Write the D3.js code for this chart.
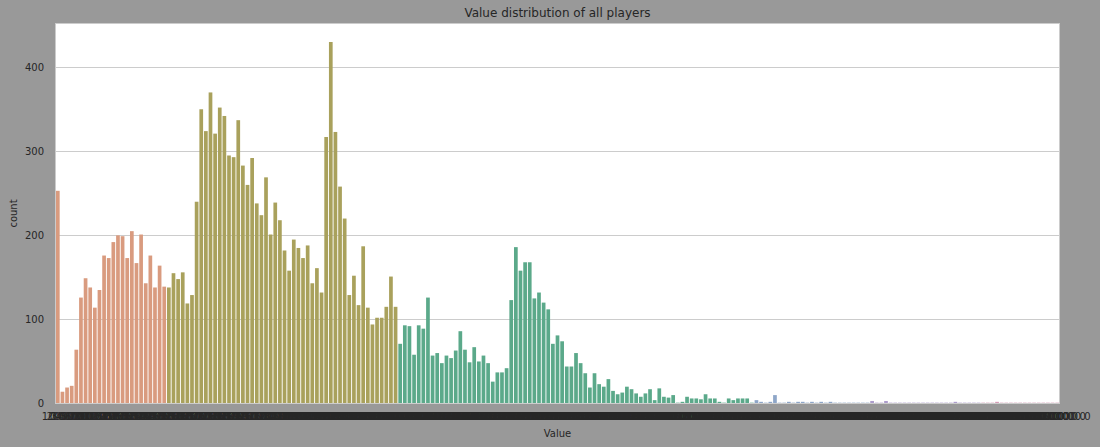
<!DOCTYPE html>
<html>
<head>
<meta charset="utf-8">
<script src="https://cdnjs.cloudflare.com/ajax/libs/d3/7.8.5/d3.min.js"></script>
<style>
  body { margin: 0; background: #999999; }
  svg { display: block; font-family: "DejaVu Sans", sans-serif; }
</style>
</head>
<body>
<svg id="chart" width="1100" height="447"></svg>
<script>
(function() {

  // player values (thousands of euro), one per category, in plot order
  var valuesK = [
    0, 10, 20, 30, 40, 50, 60, 70, 80, 90,
    100, 125, 150, 175, 200, 225, 250, 275, 300, 325, 350, 375, 400, 425, 450, 475,
    500, 525, 550, 575, 600, 625, 650, 675, 700, 725, 750, 775, 800, 825, 850, 875,
    900, 925, 950, 975,
    1000, 1100, 1200, 1300, 1400, 1500, 1600, 1700, 1800, 1900,
    2000, 2100, 2200, 2300, 2400, 2500, 2600, 2700, 2800, 2900,
    3000, 3100, 3200, 3300, 3400, 3500, 3600, 3700, 3800, 3900,
    4000, 4100, 4200, 4300, 4400, 4500, 4600, 4700, 4800, 4900,
    5000, 5100, 5200, 5300, 5400, 5500, 5600, 5700, 5800, 5900,
    6000, 6100, 6200, 6300, 6400, 6500, 6600, 6700, 6800, 6900,
    7000, 7100, 7200, 7300, 7400, 7500, 7600, 7700, 7800, 7900,
    8000, 8100, 8200, 8300, 8400, 8500, 8600, 8700, 8800, 8900,
    9000, 9100, 9200, 9300, 9400, 9500, 9600, 9700, 9800, 9900,
    10000, 10500, 11000, 11500, 12000, 12500, 13000, 13500, 14000, 14500,
    15000, 15500, 16000, 16500, 17000, 17500, 18000, 18500, 19000, 19500,
    20000, 20500, 21000, 21500, 22000, 22500, 23000, 23500, 24000, 24500,
    25000, 25500, 26000, 26500, 27000, 27500, 28000, 28500, 29000, 29500,
    30000, 30500, 31000, 31500, 32000, 32500, 33000, 33500, 34000, 34500,
    35000, 35500, 36000, 36500, 37000, 37500, 38000, 38500, 39000, 39500, 40000,
    40500, 41000, 42000, 43500, 44000, 45500, 46000, 48000, 51000, 53000,
    56000, 58500, 62000, 64500, 68000, 72000, 77000, 83500, 102000, 118500
  ];

  // number of players per value
  var counts = [
    253, 14, 19, 21, 64, 126, 149, 138, 114, 135,
    176, 173, 192, 200, 199, 173, 205, 167, 201, 143,
    176, 138, 164, 139, 138, 155, 148, 156, 119, 129,
    240, 350, 324, 370, 321, 352, 342, 295, 293, 337,
    283, 260, 292, 238, 224, 269, 201, 239, 218, 182,
    158, 195, 185, 173, 188, 143, 161, 132, 317, 430,
    323, 258, 220, 129, 152, 117, 187, 114, 94, 102,
    102, 115, 151, 115, 71, 93, 92, 58, 93, 89,
    126, 57, 60, 48, 57, 54, 63, 86, 64, 49,
    67, 50, 57, 48, 26, 37, 37, 42, 123, 186,
    158, 168, 168, 125, 132, 120, 112, 71, 81, 74,
    44, 44, 60, 48, 36, 19, 36, 23, 20, 29,
    15, 11, 13, 20, 17, 12, 8, 12, 17, 4,
    18, 8, 7, 10, 1, 2, 8, 6, 6, 5,
    11, 6, 6, 2, 1, 6, 4, 6, 6, 6,
    1, 4, 2, 1, 2, 10, 1, 1, 2, 1,
    2, 2, 1, 2, 1, 2, 1, 2, 1, 1,
    1, 1, 1, 1, 1, 1, 3, 1, 1, 3,
    1, 1, 1, 1, 1, 1, 1, 1, 1, 1,
    1, 1, 1, 1, 2, 1, 1, 1, 1, 1,
    1, 1, 1, 2, 1, 1, 1, 1, 1, 1,
    1, 1, 1, 1, 1, 1, 1
  ];

  var yTicks = [0, 100, 200, 300, 400];

  var categories = valuesK.map(function(v) { return (v * 1000).toFixed(1); });

  var left = 55.5, right = 1059.5, top = 23.5, bottom = 403.5,
      textColor = '#262626';

  var svg = d3.select('#chart');

  var x = d3.scaleBand()
    .domain(d3.range(categories.length))
    .range([left, right])
    .paddingInner(0.2)
    .paddingOuter(0.1);

  var y = d3.scaleLinear()
    .domain([0, 452])
    .range([bottom, top]);

  function barColor(i) {
    if (i < 24) return '#d99b7f';
    if (i < 74) return '#a9a15c';
    if (i < 151) return '#5ba98a';
    if (i < 176) return '#8ea6c8';
    if (i < 200) return '#ad9dcc';
    return '#d59bb6';
  }

  // plot area
  svg.append('rect')
    .attr('x', left).attr('y', top)
    .attr('width', right - left).attr('height', bottom - top)
    .attr('fill', '#ffffff');

  // grid
  svg.append('g').selectAll('line')
    .data(yTicks.slice(1))
    .enter().append('line')
      .attr('x1', left).attr('x2', right)
      .attr('y1', function(d) { return Math.round(y(d)) + 0.5; })
      .attr('y2', function(d) { return Math.round(y(d)) + 0.5; })
      .attr('stroke', '#cccccc')
      .attr('stroke-width', 1);

  // bars
  svg.append('g').selectAll('rect')
    .data(counts)
    .enter().append('rect')
      .attr('x', function(d, i) { return x(i); })
      .attr('width', x.bandwidth())
      .attr('y', function(d) { return y(d); })
      .attr('height', function(d) { return bottom - y(d); })
      .attr('fill', function(d, i) { return barColor(i); });

  // frame
  svg.append('rect')
    .attr('x', left).attr('y', top)
    .attr('width', right - left).attr('height', bottom - top)
    .attr('fill', 'none')
    .attr('stroke', '#cccccc')
    .attr('stroke-width', 1);

  // y axis
  var yAxis = svg.append('g')
    .attr('transform', 'translate(' + left + ',0)')
    .call(d3.axisLeft(y).tickValues(yTicks).tickSize(0).tickPadding(11.5));
  yAxis.select('.domain').remove();
  yAxis.selectAll('text')
    .attr('fill', textColor)
    .style('font-size', '10px')
    .style('font-family', '"DejaVu Sans", sans-serif');

  // x axis, one label per category
  var xAxis = svg.append('g')
    .attr('transform', 'translate(0,' + bottom + ')')
    .call(d3.axisBottom(x).tickSize(0).tickPadding(9.6)
      .tickFormat(function(i) { return categories[i]; }));
  xAxis.select('.domain').remove();
  xAxis.selectAll('text')
    .attr('fill', textColor)
    .style('font-size', '10px')
    .style('font-family', '"DejaVu Sans", sans-serif');

  svg.append('text')
    .attr('x', (left + right) / 2)
    .attr('y', 437)
    .attr('text-anchor', 'middle')
    .attr('fill', textColor)
    .style('font-size', '10px')
    .text('Value');

  svg.append('text')
    .attr('transform', 'translate(17,' + ((top + bottom) / 2) + ') rotate(-90)')
    .attr('text-anchor', 'middle')
    .attr('fill', textColor)
    .style('font-size', '10px')
    .text('count');

  svg.append('text')
    .attr('x', (left + right) / 2)
    .attr('y', 17)
    .attr('text-anchor', 'middle')
    .attr('fill', textColor)
    .style('font-size', '12px')
    .text('Value distribution of all players');

})();
</script>
</body>
</html>
